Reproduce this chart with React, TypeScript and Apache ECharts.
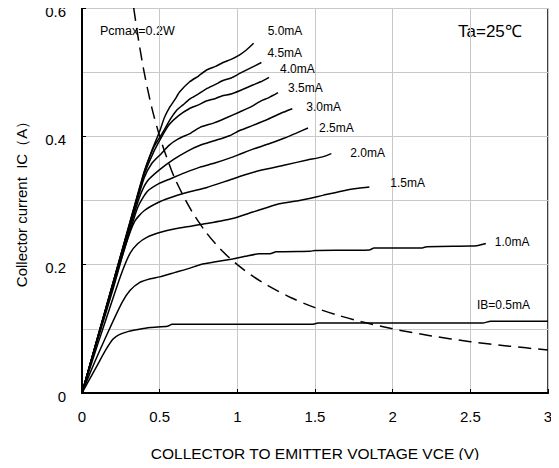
import React, { useEffect, useRef } from "react";
import * as echarts from "echarts";

// Collector current IC (A) vs VCE (V), per base current
const curveNames = ["5.0mA", "4.5mA", "4.0mA", "3.5mA", "3.0mA", "2.5mA", "2.0mA", "1.5mA", "1.0mA", "IB=0.5mA"];

const ib50 = [[0,0],[0.1,0.086],[0.2,0.172],[0.3,0.259],[0.4,0.345],[0.45,0.378],[0.5,0.408],[0.532,0.43],[0.564,0.445],[0.6,0.458],[0.628,0.469],[0.693,0.485],[0.75,0.494],[0.8,0.503],[0.86,0.509],[0.908,0.515],[0.96,0.52],[1.015,0.527],[1.06,0.535],[1.105,0.545]];
const ib45 = [[0,0],[0.1,0.086],[0.2,0.172],[0.3,0.258],[0.4,0.343],[0.46,0.382],[0.52,0.406],[0.564,0.425],[0.607,0.44],[0.65,0.449],[0.693,0.458],[0.75,0.466],[0.8,0.474],[0.86,0.481],[0.908,0.487],[0.96,0.491],[1.015,0.498],[1.08,0.506],[1.155,0.515]];
const ib40 = [[0,0],[0.1,0.086],[0.2,0.172],[0.3,0.257],[0.4,0.34],[0.46,0.375],[0.51,0.398],[0.56,0.418],[0.62,0.432],[0.69,0.443],[0.75,0.449],[0.8,0.455],[0.86,0.459],[0.9,0.463],[0.96,0.466],[1.015,0.471],[1.1,0.48],[1.15,0.485],[1.204,0.492]];
const ib35 = [[0,0],[0.1,0.085],[0.2,0.17],[0.3,0.255],[0.4,0.335],[0.45,0.358],[0.51,0.373],[0.56,0.386],[0.62,0.396],[0.7,0.405],[0.76,0.414],[0.85,0.421],[0.93,0.429],[1.015,0.438],[1.08,0.445],[1.15,0.455],[1.2,0.46],[1.262,0.468]];
const ib30 = [[0,0],[0.1,0.085],[0.2,0.169],[0.3,0.25],[0.37,0.305],[0.42,0.33],[0.5,0.348],[0.59,0.364],[0.68,0.377],[0.76,0.386],[0.85,0.393],[0.95,0.401],[1.015,0.409],[1.1,0.417],[1.2,0.427],[1.28,0.436],[1.354,0.443]];
const ib25 = [[0,0],[0.1,0.084],[0.2,0.167],[0.3,0.245],[0.36,0.29],[0.42,0.314],[0.5,0.327],[0.57,0.334],[0.66,0.343],[0.76,0.352],[0.85,0.358],[0.95,0.366],[1.015,0.372],[1.1,0.38],[1.2,0.388],[1.3,0.397],[1.38,0.405],[1.455,0.413]];
const ib20 = [[0,0],[0.1,0.082],[0.2,0.162],[0.28,0.23],[0.34,0.268],[0.4,0.284],[0.5,0.298],[0.6,0.307],[0.7,0.314],[0.8,0.32],[0.95,0.332],[1.05,0.34],[1.15,0.347],[1.3,0.355],[1.45,0.363],[1.55,0.368],[1.605,0.373]];
const ib15 = [[0,0],[0.1,0.075],[0.2,0.148],[0.26,0.19],[0.31,0.218],[0.36,0.233],[0.42,0.243],[0.5,0.25],[0.6,0.256],[0.7,0.26],[0.8,0.264],[0.97,0.272],[1.1,0.282],[1.27,0.295],[1.4,0.3],[1.55,0.308],[1.7,0.316],[1.78,0.319],[1.85,0.321]];
const ib10 = [[0,0],[0.05,0.03],[0.11,0.064],[0.2,0.112],[0.26,0.142],[0.31,0.16],[0.37,0.172],[0.44,0.178],[0.5,0.181],[0.6,0.188],[0.7,0.195],[0.76,0.2],[0.85,0.204],[0.97,0.209],[1.05,0.213],[1.14,0.217],[1.21,0.217],[1.25,0.22],[1.47,0.221],[1.5,0.222],[1.85,0.223],[1.88,0.226],[2.19,0.226],[2.22,0.228],[2.5,0.229],[2.55,0.23],[2.6,0.233]];
const ib05 = [[0,0],[0.05,0.022],[0.1,0.044],[0.15,0.066],[0.2,0.084],[0.24,0.091],[0.3,0.096],[0.36,0.099],[0.44,0.102],[0.55,0.104],[0.58,0.107],[1.0,0.107],[1.48,0.107],[1.52,0.109],[2.58,0.109],[2.63,0.112],[3.0,0.112]];

// Pcmax = 0.2 W dissipation limit (dashed)
const pcmaxCurve = [[0.333,0.6],[0.36,0.556],[0.4,0.5],[0.45,0.444],[0.5,0.4],[0.55,0.364],[0.6,0.333],[0.7,0.286],[0.8,0.25],[0.9,0.222],[1.0,0.2],[1.1,0.182],[1.2,0.167],[1.35,0.148],[1.5,0.133],[1.65,0.121],[1.8,0.111],[2.0,0.1],[2.25,0.089],[2.5,0.08],[2.75,0.073],[3.0,0.067]];

const curves = [ib50, ib45, ib40, ib35, ib30, ib25, ib20, ib15, ib10, ib05];
const labelOffsets = [[6, -12], [-2, -10], [3, -8], [2, -5], [6, -2], [3, 0], [11, -1], [13, -4], [1, -1], null];

const FONT = "'Liberation Sans', Arial, sans-serif";

export default function App() {
  const ref = useRef<HTMLDivElement>(null);
  useEffect(() => {
    if (!ref.current) return;
    const chart = echarts.init(ref.current, null, { renderer: "svg" });
    const series: any[] = curves.map((d, i) => ({
      name: curveNames[i],
      type: "line",
      data: d,
      showSymbol: false,
      symbol: "none",
      smooth: 0.2,
      lineStyle: { color: "#000", width: 1.5 },
      endLabel: labelOffsets[i]
        ? {
            show: true,
            formatter: curveNames[i],
            offset: labelOffsets[i],
            color: "#000",
            fontSize: 12,
            fontFamily: FONT,
          }
        : { show: false },
      z: 3,
    }));
    series.push({
      name: "Pcmax",
      type: "line",
      data: pcmaxCurve,
      showSymbol: false,
      symbol: "none",
      smooth: 0.3,
      lineStyle: { color: "#000", width: 1.5, type: [13, 7] },
      z: 2,
    });
    chart.setOption({
      animation: false,
      backgroundColor: "#fff",
      grid: {
        left: 82,
        top: 8,
        right: 11,
        bottom: 75,
        show: true,
        borderColor: "#000",
        borderWidth: 1.5,
        containLabel: false,
      },
      xAxis: {
        type: "value",
        min: 0,
        max: 3,
        interval: 0.5,
        name: "COLLECTOR TO EMITTER VOLTAGE VCE (V)",
        nameLocation: "middle",
        nameGap: 52,
        nameTextStyle: { color: "#000", fontSize: 15.5, fontFamily: FONT },
        axisLine: { show: true, lineStyle: { color: "#000", width: 2 } },
        axisTick: { show: true, inside: true, length: 4, lineStyle: { color: "#000" } },
        axisLabel: { color: "#000", fontSize: 15, fontFamily: FONT, margin: 16 },
        splitLine: { show: true, lineStyle: { color: "#c8c8c8", width: 1 } },
      },
      yAxis: {
        type: "value",
        min: 0,
        max: 0.6,
        interval: 0.2,
        name: "Collector current  IC（A）",
        nameLocation: "middle",
        nameGap: 53,
        nameTextStyle: { color: "#000", fontSize: 15, fontFamily: FONT },
        axisLine: { show: true, lineStyle: { color: "#000", width: 2 } },
        axisTick: { show: true, inside: true, length: 4, lineStyle: { color: "#000" } },
        axisLabel: {
          color: "#000",
          margin: 16,
          formatter: (v: number) => "{t|" + (v === 0 ? "0" : v.toFixed(1)) + "}",
          rich: {
            t: { fontSize: 15, fontFamily: FONT, color: "#000", padding: [6, 0, 0, 0] },
          },
        },
        splitLine: { show: true, lineStyle: { color: "#c8c8c8", width: 1 } },
        minorTick: { show: false, splitNumber: 2 },
        minorSplitLine: { show: true, lineStyle: { color: "#c8c8c8", width: 1 } },
      },
      graphic: [
        { type: "text", left: 100, top: 24, style: { text: "Pcmax=0.2W", fill: "#000", font: `12.5px ${FONT}` } },
        { type: "text", left: 458, top: 23, style: { text: "Ta=25℃", fill: "#000", font: `17px ${FONT}` } },
        { type: "text", left: 477, top: 299, style: { text: "IB=0.5mA", fill: "#000", font: `12px ${FONT}` } },
      ],
      series,
    });
    return () => chart.dispose();
  }, []);
  return <div ref={ref} style={{ width: 559, height: 468, margin: -8 }} />;
}
